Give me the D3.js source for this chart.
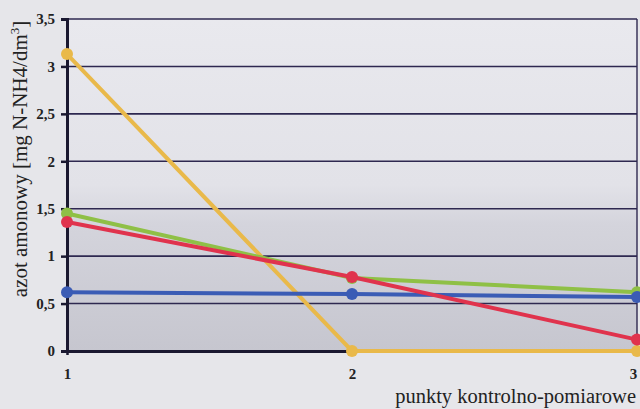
<!DOCTYPE html>
<html><head><meta charset="utf-8">
<script src="https://cdn.jsdelivr.net/npm/d3@7"></script>
<style>body{margin:0;background:#e6e6ea;}svg{display:block;}</style>
</head><body><svg id="c" width="640" height="409"></svg>
<script>
const categories = ["1","2","3"];
const yTicks = [0,0.5,1,1.5,2,2.5,3,3.5];
const seriesYellow = [3.13,0,0];
const seriesGreen = [1.45,0.77,0.62];
const seriesRed = [1.36,0.78,0.12];
const seriesBlue = [0.62,0.60,0.57];
const series = [
  {name:"yellow", values:seriesYellow, color:"#e9b94a"},
  {name:"green", values:seriesGreen, color:"#8fc046"},
  {name:"red", values:seriesRed, color:"#e0334d"},
  {name:"blue", values:seriesBlue, color:"#3b5cb5"}
];
const drawOrder = [series[0], series[1], series[3], series[2]];
const FONT = "'Liberation Serif','Times New Roman','DejaVu Serif',serif";
const svg = d3.select("#c");
const L=67,R=637,T=19,B=351;
const x = d3.scalePoint().domain(categories).range([L,R]);
const y = d3.scaleLinear().domain([0,3.5]).range([B,T]);
const defs = svg.append("defs");
const g = defs.append("linearGradient").attr("id","bg").attr("x1",0).attr("y1",0).attr("x2",0).attr("y2",1);
g.append("stop").attr("offset","0").attr("stop-color","#e9e9ee");
g.append("stop").attr("offset","0.5").attr("stop-color","#e2e2e8");
g.append("stop").attr("offset","0.62").attr("stop-color","#d4d4dc");
g.append("stop").attr("offset","1").attr("stop-color","#c6c6cf");
svg.append("rect").attr("x",L).attr("y",T).attr("width",R-L).attr("height",B-T).attr("fill","url(#bg)");
// grid
svg.append("g").selectAll("line").data(yTicks.filter(d=>d>0)).join("line")
  .attr("x1",L).attr("x2",R).attr("y1",d=>y(d)).attr("y2",d=>y(d))
  .attr("stroke","#2e2850").attr("stroke-width",1.6);
svg.append("line").attr("x1",R).attr("x2",R).attr("y1",T).attr("y2",B).attr("stroke","#2e2850").attr("stroke-width",1.4);
// axes
const ya = svg.append("g").attr("transform",`translate(${L},0)`)
  .call(d3.axisLeft(y).tickValues(yTicks).tickSize(6).tickFormat(d=>String(d).replace(".",",")));
ya.select(".domain").attr("stroke","#1a1830").attr("stroke-width",3);
ya.selectAll(".tick line").attr("stroke","#1a1830").attr("stroke-width",2.5);
ya.selectAll(".tick text").style("font-family",FONT).style("font-weight","bold").style("font-size","15px").style("fill","#222").attr("x",-12);
const xa = svg.append("g").attr("transform",`translate(0,${B})`)
  .call(d3.axisBottom(x).tickSize(4).tickSizeOuter(0));
xa.select(".domain").attr("stroke","#1a1830").attr("stroke-width",3);
xa.selectAll(".tick line").attr("stroke","#1a1830").attr("stroke-width",2.5);
xa.selectAll(".tick text").style("font-family",FONT).style("font-weight","bold").style("font-size","15px").style("fill","#222").attr("y",17);
xa.selectAll(".tick:last-of-type text").attr("x",-4);
// lines
const line = d3.line().x((d,i)=>x(categories[i])).y(d=>y(d));
drawOrder.forEach(s=>{
  svg.append("path").datum(s.values).attr("d",line).attr("fill","none").attr("stroke",s.color).attr("stroke-width",4);
  svg.append("g").selectAll("circle").data(s.values).join("circle")
    .attr("cx",(d,i)=>x(categories[i])).attr("cy",d=>y(d)).attr("r",6).attr("fill",s.color);
});
// titles
const yt = svg.append("text").attr("transform","translate(27,159) rotate(-90)")
  .attr("text-anchor","middle").style("font-family",FONT).style("font-size","21px").style("fill","#222");
yt.append("tspan").text("azot amonowy [mg N-NH4/dm");
yt.append("tspan").text("3").style("font-size","13px").attr("dy",-8);
yt.append("tspan").text("]").attr("dy",8);
svg.append("text").attr("x",636).attr("y",403).attr("text-anchor","end")
  .style("font-family",FONT).style("font-size","20.5px").style("fill","#222").text("punkty kontrolno-pomiarowe");
</script></body></html>
